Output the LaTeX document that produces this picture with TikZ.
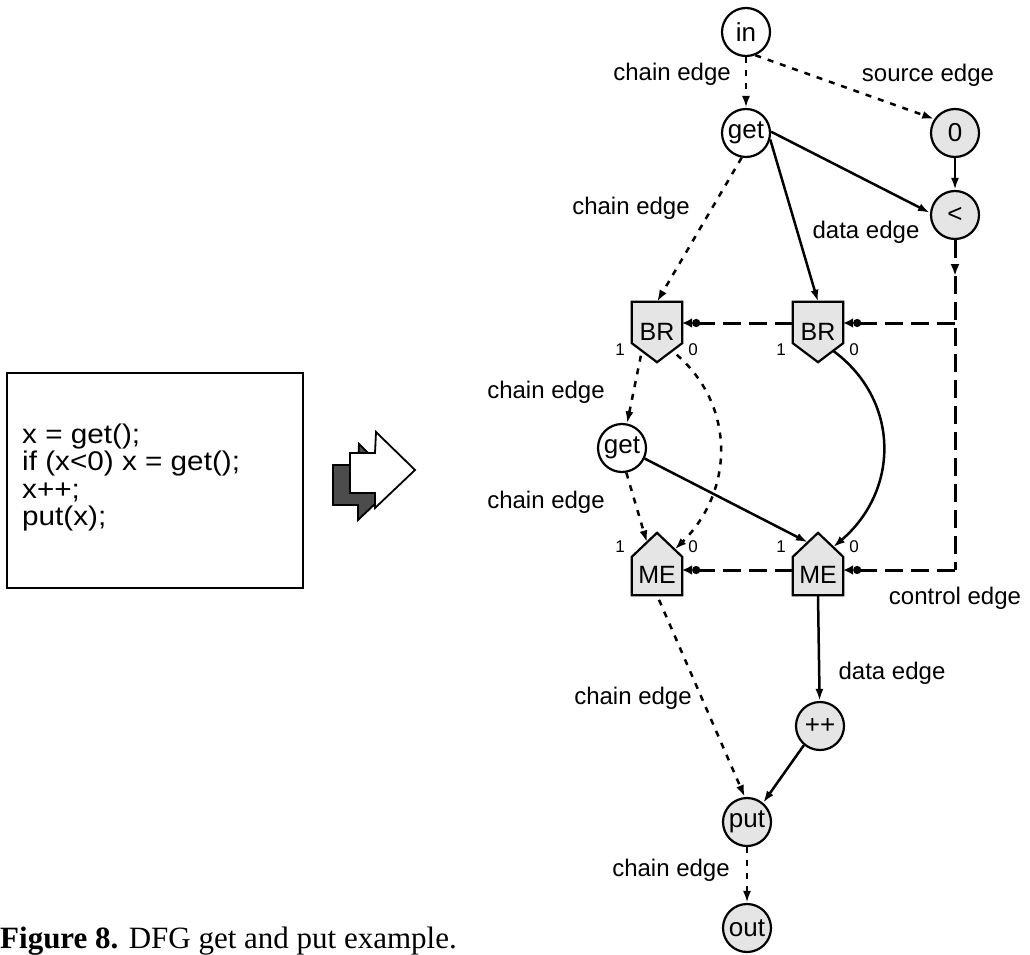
\documentclass[tikz,border=0pt]{standalone}
\usepackage{fontspec}
\setmainfont{Liberation Sans}
\newfontfamily\capfont{Liberation Serif}
\newfontfamily\codefont[FakeStretch=1.1]{Liberation Sans}
\usetikzlibrary{arrows.meta,calc,backgrounds}
\begin{document}
\begin{tikzpicture}[x=1pt,y=-1pt,
  lab/.style={font=\fontsize{24}{28}\selectfont, inner sep=0pt},
  port/.style={font=\fontsize{17}{20}\selectfont, inner sep=0pt},
  codeline/.style={font=\codefont\fontsize{27}{28}\selectfont, inner sep=0pt, anchor=base west},
  cnode/.style={circle, draw, line width=2.2pt, minimum size=48pt, inner sep=0pt, font=\fontsize{26}{28}\selectfont},
  shaded/.style={fill=black!10},
  pentbox/.style={minimum width=50pt, minimum height=60pt, inner sep=0pt, font=\fontsize{25}{28}\selectfont},
  pentline/.style={draw, line width=2.2pt, fill=black!10, line join=miter},
  chain/.style={line width=2.5pt, dash pattern=on 6pt off 7pt, -{Latex[length=12pt,width=8pt]}},
  data/.style={line width=2.5pt, -{Latex[length=12pt,width=8pt]}},
  ctrl/.style={line width=3pt, dash pattern=on 18pt off 8pt},
  ctrlarrow/.style={ctrl, -{Circle[length=8pt]Latex[length=10pt,width=10pt]}},
]
\useasboundingbox (0,0) rectangle (1030,955);

% ---- code box ----
\node[draw, line width=2.2pt, minimum width=296pt, minimum height=215pt, inner sep=0pt] (codebox) at (155,480.5) {};
\node[codeline] (code1) at (22,443) {x = get();};
\node[codeline] (code2) at (22,470.5) {if (x<0) x = get();};
\node[codeline] (code3) at (22,498) {x++;};
\node[codeline] (code4) at (22,525.5) {put(x);};

% ---- 3D arrow icon ----
\begin{scope}[shift={(-17,12)}]
\draw[line width=1.8pt, fill=black!70, line join=miter] (350,453) -- (375,453) -- (376,432) -- (415,470) -- (375,508) -- (375,493) -- (350,493) -- cycle;
\end{scope}
\draw[line width=1.8pt, fill=white, line join=miter] (350,453) -- (375,453) -- (376,432) -- (415,470) -- (375,508) -- (375,493) -- (350,493) -- cycle;

% ---- nodes ----
\node[cnode] (in) at (746,32) {in};
\node[cnode] (get1) at (746,133) {get};
\node[cnode,shaded] (zero) at (955,133) {0};
\node[cnode,shaded] (lt) at (955,215) {<};
\node[pentbox] (br1) at (657,332) {BR};
\node[pentbox] (br2) at (818,332) {BR};
\node[cnode] (get2) at (622,448) {get};
\node[pentbox, minimum height=62pt, text height=39pt, text depth=0pt] (me1) at (657,564) {ME};
\node[pentbox, minimum height=62pt, text height=39pt, text depth=0pt] (me2) at (818,564) {ME};
\node[cnode,shaded] (inc) at (820,726) {++};
\node[cnode,shaded] (put) at (747,822) {put};
\node[cnode,shaded] (out) at (747,928) {out};

\begin{scope}[on background layer]
\foreach \b in {br1,br2}{
  \path[pentline] (\b.north west) -- (\b.north east) -- ([yshift=19pt]\b.south east) -- (\b.south) -- ([yshift=19pt]\b.south west) -- cycle;
}
\foreach \m in {me1,me2}{
  \path[pentline] (\m.south west) -- ([yshift=-24pt]\m.north west) -- (\m.north) -- ([yshift=-24pt]\m.north east) -- (\m.south east) -- cycle;
}
\end{scope}

% port coordinates
\coordinate (br1a) at ($(br1.south)!0.6!([yshift=19pt]br1.south west)$);
\coordinate (br1b) at ($(br1.south)!0.6!([yshift=19pt]br1.south east)$);
\coordinate (br2b) at ($(br2.south)!0.6!([yshift=19pt]br2.south east)$);
\coordinate (me1a) at ($(me1.north)!0.4!([yshift=-24pt]me1.north west)$);
\coordinate (me1b) at ($(me1.north)!0.7!([yshift=-24pt]me1.north east)$);
\coordinate (me2a) at ($(me2.north)!0.4!([yshift=-24pt]me2.north west)$);
\coordinate (me2b) at ($(me2.north)!0.6!([yshift=-24pt]me2.north east)$);

% port labels
\node[port] (p1) at (620,350) {1};
\node[port] (p2) at (693,350) {0};
\node[port] (p3) at (781,350) {1};
\node[port] (p4) at (854,350) {0};
\node[port] (p5) at (620,547) {1};
\node[port] (p6) at (693,547) {0};
\node[port] (p7) at (781,547) {1};
\node[port] (p8) at (854,547) {0};

% ---- edges ----
\draw[chain] (in) -- (get1);
\draw[chain] (in.-68) -- (zero.146);
\draw[data] (zero) -- (lt);
\draw[data] (get1.3) -- (lt.175);
\draw[data] (get1.-15) -- (br2.north);
\draw[chain] (get1.-100) -- (br1.north);
\draw[chain, shorten <=5pt] (br1a) -- (get2);
\draw[chain, shorten <=6pt] (br1b) .. controls (735,405) and (735,490) .. (me1b);
\draw[data] (br2b) .. controls (900,400) and (900,490) .. (me2b);
\draw[chain] (get2.-80) -- (me1a);
\draw[data] (get2.-25) -- (me2a);
\draw[data] (me2.south) -- (inc);
\draw[data] (inc.-130) -- (put.50);
\draw[chain, shorten <=5pt] (me1.south) -- (put.95);
\draw[chain] (put) -- (out);

% control edges
\coordinate (ctrlA) at (955,276);
\coordinate (ctrlT) at (955,323);
\coordinate (ctrlB) at (955,570);
\draw[ctrl, -{Latex[length=12pt,width=9pt]}] (lt.south) -- (ctrlA);
\draw[ctrl] (ctrlA) -- (ctrlB);
\draw[ctrlarrow] (ctrlT) -- (ctrlT -| br2.east);
\draw[ctrlarrow] (ctrlT -| br2.west) -- (ctrlT -| br1.east);
\draw[ctrlarrow] (ctrlB) -- (ctrlB -| me2.east);
\draw[ctrlarrow] (ctrlB -| me2.west) -- (ctrlB -| me1.east);

% ---- edge labels ----
\node[lab, anchor=east] (l1) at (731,74) {chain edge};
\node[lab] (l2) at (928,75) {source edge};
\node[lab] (l3) at (631,208) {chain edge};
\node[lab] (l4) at (866,232) {data edge};
\node[lab] (l5) at (546,392) {chain edge};
\node[lab] (l6) at (546,502) {chain edge};
\node[lab] (l7) at (955,598) {control edge};
\node[lab] (l8) at (892,673) {data edge};
\node[lab] (l9) at (633,698) {chain edge};
\node[lab] (l10) at (671,870) {chain edge};

% ---- caption ----
\node[anchor=base west, inner sep=0pt, font=\capfont\fontsize{31}{34}\selectfont] (caption) at (0,948) {\textbf{Figure 8.} DFG get and put example.};
\end{tikzpicture}
\end{document}
